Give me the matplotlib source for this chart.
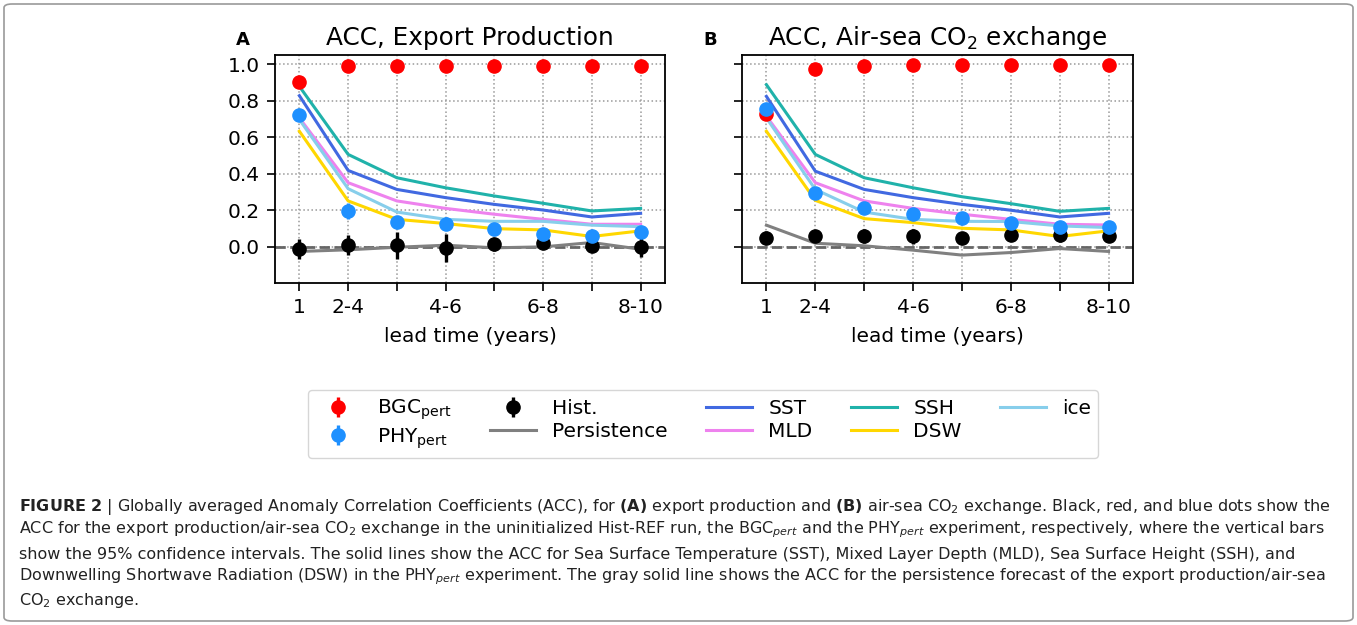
import matplotlib
matplotlib.use('Agg')
from matplotlib import pyplot as plt
from matplotlib.patches import FancyBboxPatch

# lead-time positions and labels
lead = [1, 2, 3, 4, 5, 6, 7, 8]
lead_labels = ['1', '2-4', '', '4-6', '', '6-8', '', '8-10']

# panel A: export production
a_bgc = [0.90, 0.99, 0.99, 0.99, 0.99, 0.99, 0.99, 0.99]
a_bgc_err = [0.01, 0.01, 0.01, 0.01, 0.01, 0.01, 0.01, 0.01]
a_phy = [0.723, 0.195, 0.135, 0.126, 0.095, 0.067, 0.058, 0.082]
a_phy_err = [0.03, 0.045, 0.035, 0.035, 0.03, 0.03, 0.03, 0.03]
a_hist = [-0.015, 0.007, 0.007, -0.007, 0.013, 0.022, 0.004, 0.0]
a_hist_err = [0.056, 0.055, 0.075, 0.077, 0.036, 0.03, 0.036, 0.055]
a_pers = [-0.027, -0.018, -0.004, 0.007, -0.007, -0.002, 0.022, -0.015]
a_sst = [0.827, 0.417, 0.313, 0.268, 0.231, 0.200, 0.162, 0.182]
a_ssh = [0.878, 0.505, 0.377, 0.322, 0.277, 0.237, 0.195, 0.209]
a_mld = [0.705, 0.350, 0.250, 0.209, 0.177, 0.149, 0.122, 0.122]
a_dsw = [0.632, 0.250, 0.149, 0.126, 0.098, 0.091, 0.055, 0.086]
a_ice = [0.696, 0.317, 0.189, 0.149, 0.138, 0.138, 0.117, 0.109]

# panel B: air-sea CO2 exchange
b_bgc = [0.729, 0.975, 0.987, 0.993, 0.993, 0.993, 0.993, 0.993]
b_bgc_err = [0.01, 0.01, 0.01, 0.01, 0.01, 0.01, 0.01, 0.01]
b_phy = [0.754, 0.291, 0.211, 0.180, 0.157, 0.131, 0.109, 0.107]
b_phy_err = [0.02, 0.02, 0.02, 0.02, 0.02, 0.02, 0.02, 0.02]
b_hist = [0.049, 0.058, 0.058, 0.055, 0.049, 0.062, 0.062, 0.058]
b_hist_err = [0.035, 0.035, 0.04, 0.04, 0.03, 0.03, 0.035, 0.03]
b_pers = [0.117, 0.018, 0.004, -0.020, -0.047, -0.033, -0.011, -0.027]
b_sst = [0.823, 0.413, 0.313, 0.268, 0.231, 0.199, 0.162, 0.182]
b_ssh = [0.887, 0.505, 0.377, 0.322, 0.273, 0.235, 0.193, 0.209]
b_mld = [0.714, 0.350, 0.250, 0.209, 0.177, 0.149, 0.122, 0.118]
b_dsw = [0.632, 0.253, 0.153, 0.131, 0.100, 0.091, 0.055, 0.086]
b_ice = [0.705, 0.313, 0.189, 0.149, 0.138, 0.137, 0.113, 0.104]

caption = [
    r"$\mathbf{FIGURE\ 2}$ | Globally averaged Anomaly Correlation Coefficients (ACC), for $\mathbf{(A)}$ export production and $\mathbf{(B)}$ air-sea CO$_2$ exchange. Black, red, and blue dots show the",
    r"ACC for the export production/air-sea CO$_2$ exchange in the uninitialized Hist-REF run, the BGC$_{pert}$ and the PHY$_{pert}$ experiment, respectively, where the vertical bars",
    "show the 95% confidence intervals. The solid lines show the ACC for Sea Surface Temperature (SST), Mixed Layer Depth (MLD), Sea Surface Height (SSH), and",
    r"Downwelling Shortwave Radiation (DSW) in the PHY$_{pert}$ experiment. The gray solid line shows the ACC for the persistence forecast of the export production/air-sea",
    r"CO$_2$ exchange.",
]

W, H = 1357, 625
fig = plt.figure(figsize=(W / 100, H / 100), dpi=100)

# outer frame
fig.patches.append(FancyBboxPatch((4 / W, 4 / H), 1 - 8 / W, 1 - 8 / H,
                                  boxstyle='round,pad=0,rounding_size=0.006',
                                  transform=fig.transFigure, fill=False,
                                  edgecolor='#9a9a9a', linewidth=1.2))

ax_a = fig.add_axes([275 / W, 1 - 283 / H, 390 / W, 228 / H])
ax_b = fig.add_axes([742 / W, 1 - 283 / H, 391 / W, 228 / H])

handles = None
for ax, d, title, letter in [
        (ax_a, (a_bgc, a_bgc_err, a_phy, a_phy_err, a_hist, a_hist_err, a_pers,
                a_sst, a_ssh, a_mld, a_dsw, a_ice), 'ACC, Export Production', 'A'),
        (ax_b, (b_bgc, b_bgc_err, b_phy, b_phy_err, b_hist, b_hist_err, b_pers,
                b_sst, b_ssh, b_mld, b_dsw, b_ice), r'ACC, Air-sea CO$_2$ exchange', 'B')]:
    bgc, bgc_err, phy, phy_err, hist, hist_err, pers, sst, ssh, mld, dsw, ice = d
    ax.axhline(0, color='#666666', linestyle='--', linewidth=2, zorder=2)
    l_pers, = ax.plot(lead, pers, color='gray', linewidth=2.2, zorder=3)
    l_sst, = ax.plot(lead, sst, color='royalblue', linewidth=2.2, zorder=3)
    l_ssh, = ax.plot(lead, ssh, color='lightseagreen', linewidth=2.2, zorder=3)
    l_mld, = ax.plot(lead, mld, color='violet', linewidth=2.2, zorder=3)
    l_dsw, = ax.plot(lead, dsw, color='gold', linewidth=2.2, zorder=3)
    l_ice, = ax.plot(lead, ice, color='skyblue', linewidth=2.2, zorder=3)
    e_hist = ax.errorbar(lead, hist, yerr=hist_err, fmt='o', color='black',
                         ms=9.5, elinewidth=2.4, zorder=4)
    e_bgc = ax.errorbar(lead, bgc, yerr=bgc_err, fmt='o', color='red',
                        ms=9.5, elinewidth=2.4, zorder=5)
    e_phy = ax.errorbar(lead, phy, yerr=phy_err, fmt='o', color='dodgerblue',
                        ms=9.5, elinewidth=2.4, zorder=5)
    ax.set_xlim(0.5, 8.5)
    ax.set_ylim(-0.2, 1.05)
    ax.set_xticks(lead)
    ax.set_xticklabels(lead_labels)
    ax.set_yticks([0.0, 0.2, 0.4, 0.6, 0.8, 1.0])
    ax.grid(True, linestyle=':', color='#999999', linewidth=1.1)
    ax.tick_params(labelsize=14.5, direction='out', length=6, width=1.2, pad=5)
    for s in ax.spines.values():
        s.set_linewidth(1.3)
    ax.set_xlabel('lead time (years)', fontsize=14.5, labelpad=7)
    ax.set_title(title, fontsize=17.8, pad=7)
    ax.text(-0.1, 1.066, letter, transform=ax.transAxes, fontsize=13,
            fontweight='bold', ha='left', va='center')
    handles = [e_bgc, e_phy, e_hist, l_pers, l_sst, l_mld, l_ssh, l_dsw, l_ice]

ax_b.set_yticklabels([])

labels = [r'BGC$_{\mathrm{pert}}$', r'PHY$_{\mathrm{pert}}$', 'Hist.', 'Persistence',
          'SST', 'MLD', 'SSH', 'DSW', 'ice']
fig.legend(handles, labels, loc='center', bbox_to_anchor=(703 / W, 1 - 424 / H),
           ncol=5, fontsize=14.5, handlelength=2.3, columnspacing=1.9,
           labelspacing=0.2, borderpad=0.35)

line_y = [507, 530, 554, 577, 601]
for txt, y in zip(caption, line_y):
    fig.text(19 / W, 1 - y / H, txt, fontsize=11.5, color='#222222',
             ha='left', va='center')

fig.savefig('out.png', dpi=100)
